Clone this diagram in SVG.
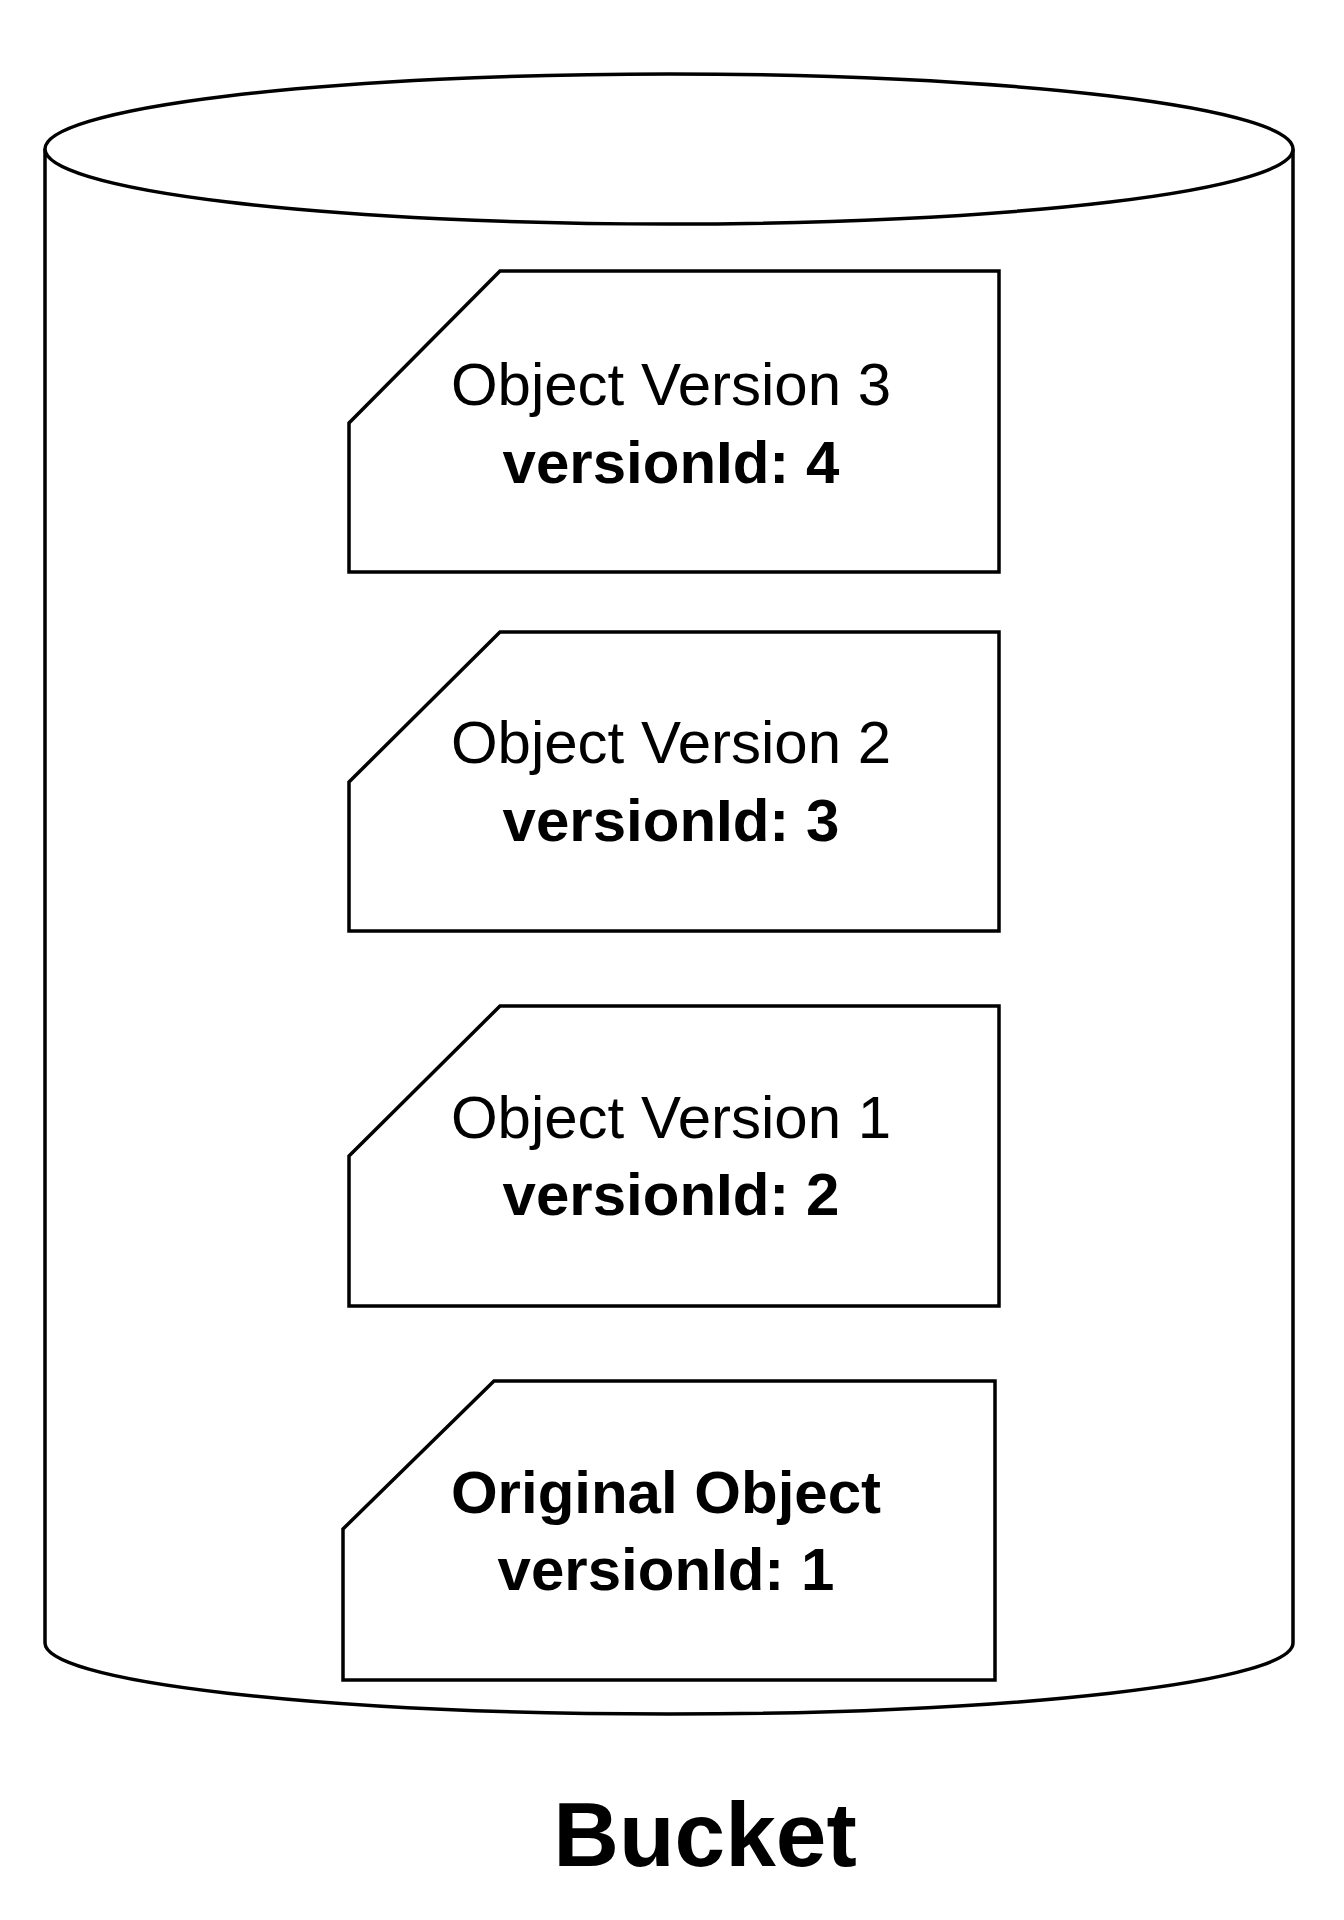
<svg xmlns="http://www.w3.org/2000/svg" width="1344" height="1920" viewBox="0 0 1344 1920">
<style>
.s{fill:#fff;stroke:#000;stroke-width:3.5}
.t{font-family:"Liberation Sans",Arial,sans-serif;font-size:60px;text-anchor:middle}
.b{font-weight:bold}
</style>
<rect width="1344" height="1920" fill="#fff"/>
<g id="bucket">
<path class="s" d="M45,149 L45,1643 A624,71 0 0 0 1293,1643 L1293,149"/>
<ellipse class="s" cx="669" cy="149" rx="624" ry="75"/>
<text class="t b" x="705" y="1866" style="font-size:91px">Bucket</text>
</g>
<g id="v3">
<path class="s" d="M500,271 L999,271 L999,572 L349,572 L349,423 Z"/>
<text class="t" x="671" y="405">Object Version 3</text>
<text class="t b" x="671" y="483">versionId: 4</text>
</g>
<g id="v2">
<path class="s" d="M500,632 L999,632 L999,931 L349,931 L349,782 Z"/>
<text class="t" x="671" y="763">Object Version 2</text>
<text class="t b" x="671" y="841">versionId: 3</text>
</g>
<g id="v1">
<path class="s" d="M500,1006 L999,1006 L999,1306 L349,1306 L349,1156 Z"/>
<text class="t" x="671" y="1138">Object Version 1</text>
<text class="t b" x="671" y="1215">versionId: 2</text>
</g>
<g id="orig">
<path class="s" d="M494,1381 L995,1381 L995,1680 L343,1680 L343,1529 Z"/>
<text class="t b" x="666" y="1513">Original Object</text>
<text class="t b" x="666" y="1590">versionId: 1</text>
</g>
<g id="connectors"/>
</svg>
